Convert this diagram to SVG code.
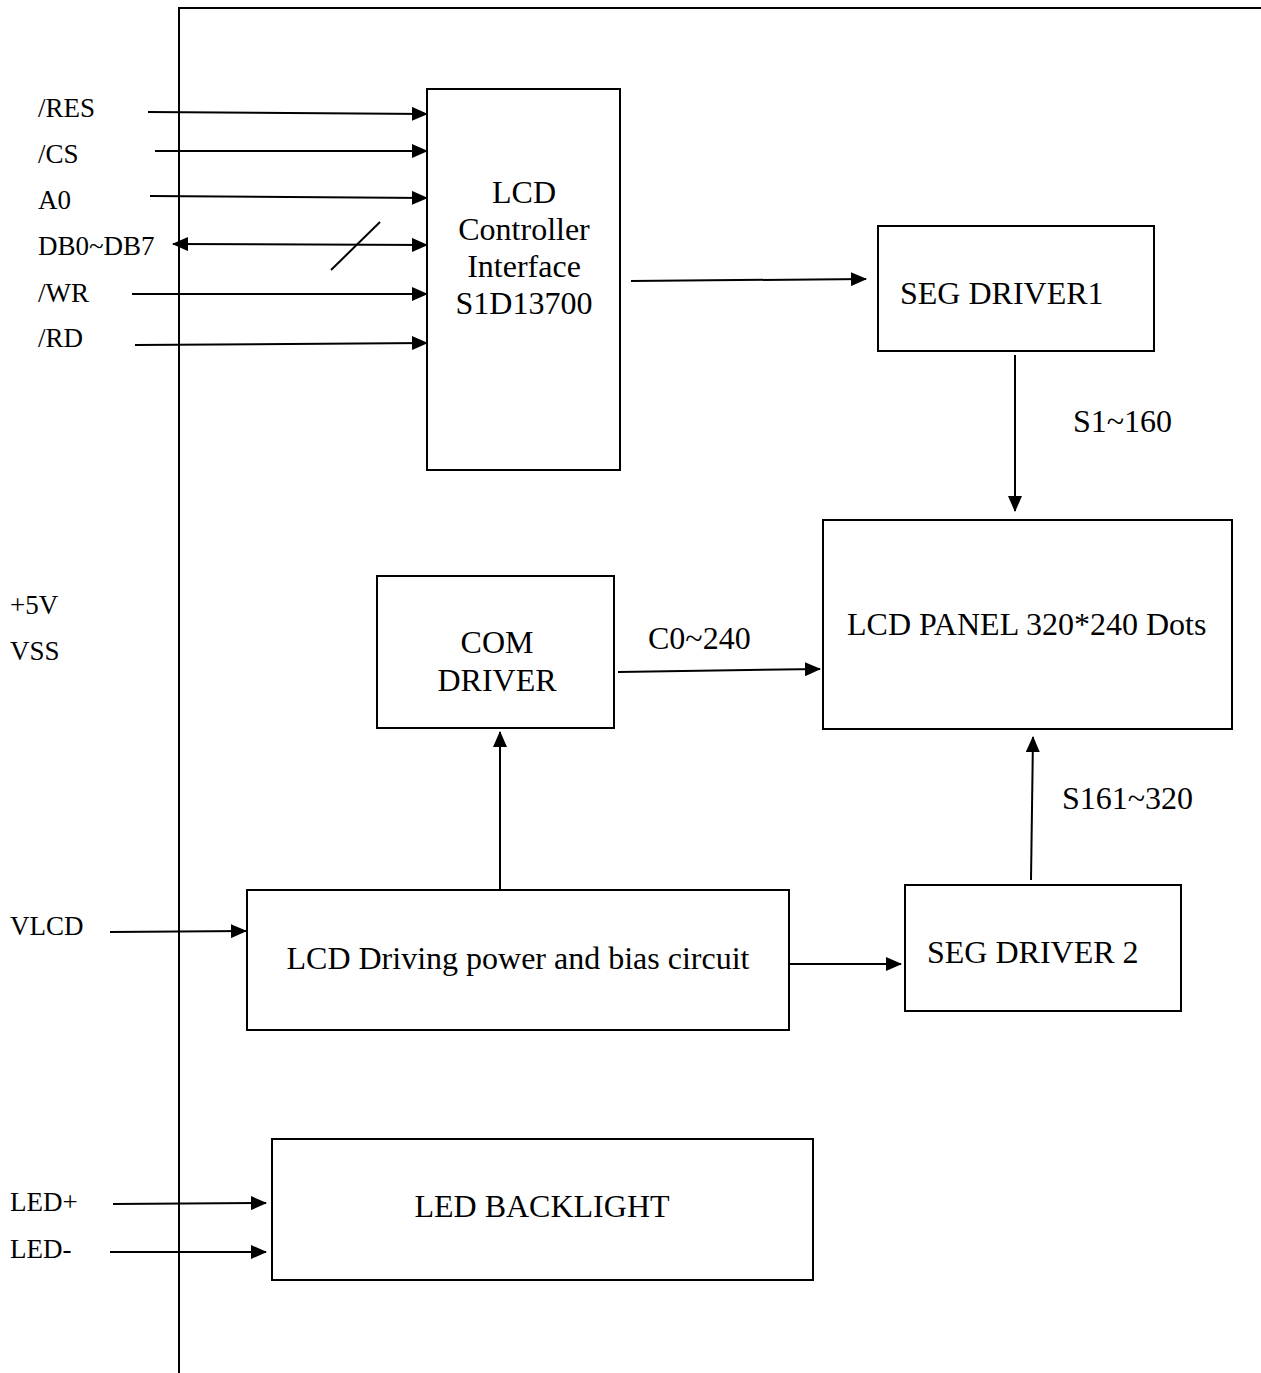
<svg xmlns="http://www.w3.org/2000/svg" width="1261" height="1373" viewBox="0 0 1261 1373">
<style>
.t{font-family:"Liberation Serif","Times New Roman",serif;fill:#000}
.lbl{font-size:27px}
.big{font-size:32px}
.box{fill:#fff;stroke:#000;stroke-width:2}
.ln{fill:none;stroke:#000;stroke-width:2}
</style>
<defs>
<marker id="ah" markerUnits="userSpaceOnUse" markerWidth="16" markerHeight="14" refX="15" refY="7" orient="auto">
<path d="M0,0 L16,7 L0,14 Z" fill="#000"/>
</marker>
<marker id="as" markerUnits="userSpaceOnUse" markerWidth="16" markerHeight="14" refX="1" refY="7" orient="auto">
<path d="M16,0 L0,7 L16,14 Z" fill="#000"/>
</marker>
</defs>
<rect width="1261" height="1373" fill="#fff"/>
<g id="frame">
<line class="ln" x1="179" y1="8" x2="1261" y2="8"/>
<line class="ln" x1="179" y1="7" x2="179" y2="1373"/>
</g>
<g id="pin-labels" class="t lbl">
<text x="38" y="117">/RES</text>
<text x="38" y="163">/CS</text>
<text x="38" y="209">A0</text>
<text x="38" y="255">DB0~DB7</text>
<text x="38" y="302">/WR</text>
<text x="38" y="347">/RD</text>
<text x="10" y="614">+5V</text>
<text x="10" y="660">VSS</text>
<text x="10" y="935">VLCD</text>
<text x="10" y="1211">LED+</text>
<text x="10" y="1258">LED-</text>
</g>
<g id="controller">
<rect class="box" x="427" y="89" width="193" height="381"/>
<text class="t big" x="524" y="203" text-anchor="middle">LCD</text>
<text class="t big" x="524" y="240" text-anchor="middle">Controller</text>
<text class="t big" x="524" y="277" text-anchor="middle">Interface</text>
<text class="t big" x="524" y="314" text-anchor="middle">S1D13700</text>
</g>
<g id="seg1">
<rect class="box" x="878" y="226" width="276" height="125"/>
<text class="t big" x="900" y="304">SEG DRIVER1</text>
</g>
<g id="panel">
<rect class="box" x="823" y="520" width="409" height="209"/>
<text class="t big" x="847" y="635">LCD PANEL 320*240 Dots</text>
</g>
<g id="com">
<rect class="box" x="377" y="576" width="237" height="152"/>
<text class="t big" x="497" y="653" text-anchor="middle">COM</text>
<text class="t big" x="497" y="691" text-anchor="middle">DRIVER</text>
</g>
<g id="power">
<rect class="box" x="247" y="890" width="542" height="140"/>
<text class="t big" x="518" y="969" text-anchor="middle">LCD Driving power and bias circuit</text>
</g>
<g id="seg2">
<rect class="box" x="905" y="885" width="276" height="126"/>
<text class="t big" x="927" y="963">SEG DRIVER 2</text>
</g>
<g id="backlight">
<rect class="box" x="272" y="1139" width="541" height="141"/>
<text class="t big" x="542" y="1217" text-anchor="middle">LED BACKLIGHT</text>
</g>
<g id="connectors">
<line class="ln" x1="148" y1="112" x2="427" y2="114" marker-end="url(#ah)"/>
<line class="ln" x1="155" y1="151" x2="427" y2="151" marker-end="url(#ah)"/>
<line class="ln" x1="150" y1="196" x2="427" y2="198" marker-end="url(#ah)"/>
<line class="ln" x1="173" y1="244" x2="427" y2="245" marker-start="url(#as)" marker-end="url(#ah)"/>
<line class="ln" x1="331" y1="270" x2="380" y2="222"/>
<line class="ln" x1="132" y1="294" x2="427" y2="294" marker-end="url(#ah)"/>
<line class="ln" x1="135" y1="345" x2="427" y2="343" marker-end="url(#ah)"/>
<line class="ln" x1="631" y1="281" x2="866" y2="279" marker-end="url(#ah)"/>
<line class="ln" x1="1015" y1="355" x2="1015" y2="511" marker-end="url(#ah)"/>
<text class="t big" x="1073" y="432">S1~160</text>
<line class="ln" x1="618" y1="672" x2="820" y2="669" marker-end="url(#ah)"/>
<text class="t big" x="648" y="649">C0~240</text>
<line class="ln" x1="500" y1="890" x2="500" y2="732" marker-end="url(#ah)"/>
<line class="ln" x1="110" y1="932" x2="246" y2="931" marker-end="url(#ah)"/>
<line class="ln" x1="789" y1="964" x2="901" y2="964" marker-end="url(#ah)"/>
<line class="ln" x1="1031" y1="880" x2="1033" y2="737" marker-end="url(#ah)"/>
<text class="t big" x="1062" y="809">S161~320</text>
<line class="ln" x1="113" y1="1204" x2="266" y2="1203" marker-end="url(#ah)"/>
<line class="ln" x1="110" y1="1252" x2="266" y2="1252" marker-end="url(#ah)"/>
</g>
</svg>
